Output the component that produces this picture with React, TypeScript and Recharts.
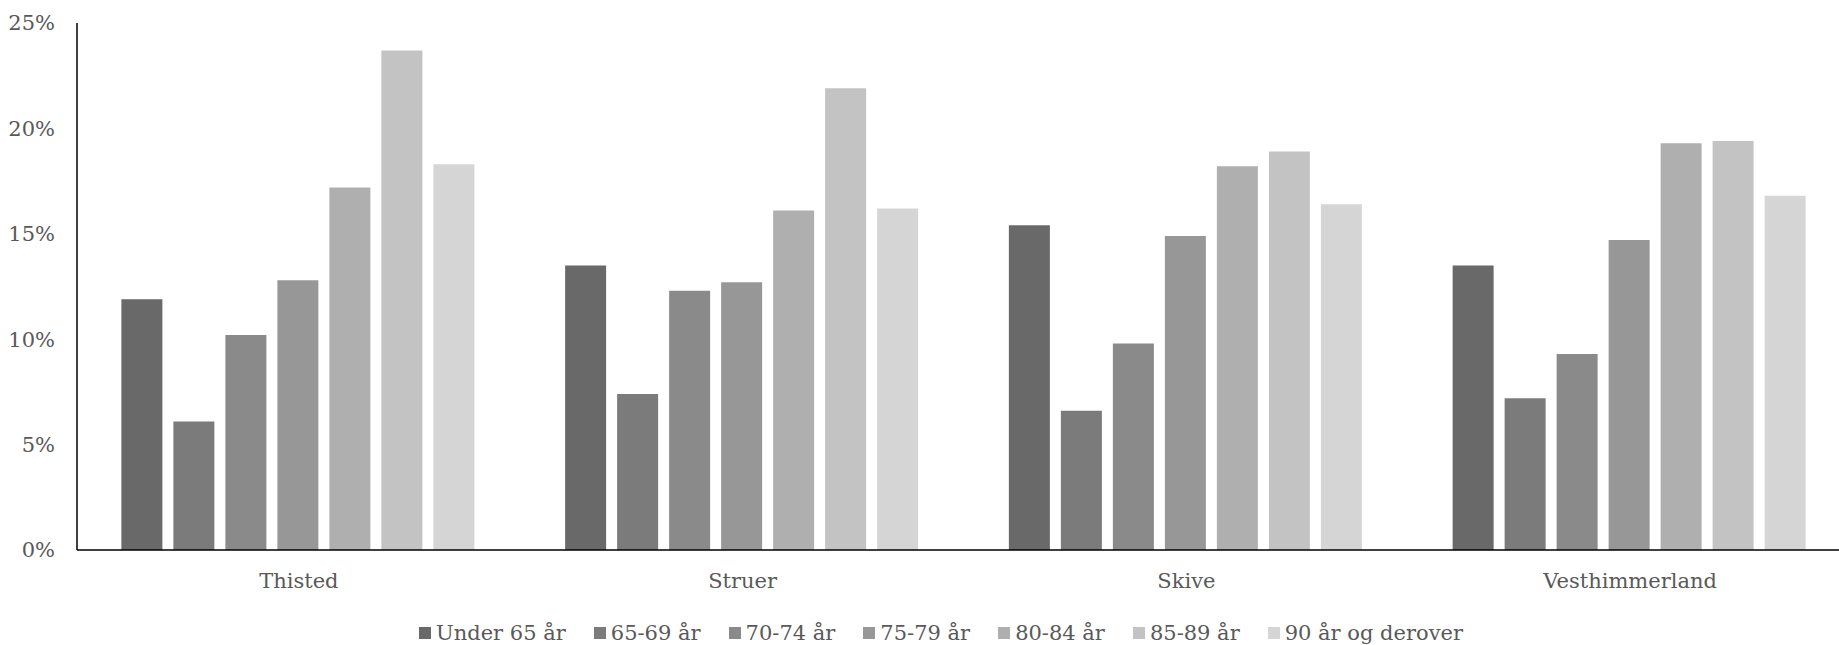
import { BarChart, Bar, XAxis, YAxis, Legend } from 'recharts';

const kommuner = ['Thisted', 'Struer', 'Skive', 'Vesthimmerland'];

const aldersgrupper = [
    'Under 65 år',
    '65-69 år',
    '70-74 år',
    '75-79 år',
    '80-84 år',
    '85-89 år',
    '90 år og derover',
];

// andel pr. aldersgruppe, i procent, rækkefølge som kommuner
const under65 = [11.9, 13.5, 15.4, 13.5];
const aar6569 = [6.1, 7.4, 6.6, 7.2];
const aar7074 = [10.2, 12.3, 9.8, 9.3];
const aar7579 = [12.8, 12.7, 14.9, 14.7];
const aar8084 = [17.2, 16.1, 18.2, 19.3];
const aar8589 = [23.7, 21.9, 18.9, 19.4];
const aar90 = [18.3, 16.2, 16.4, 16.8];

const serier = [under65, aar6569, aar7074, aar7579, aar8084, aar8589, aar90];

const yTicks = [0, 5, 10, 15, 20, 25];

const COLORS = ['#696969', '#7b7b7b', '#8a8a8a', '#979797', '#afafaf', '#c3c3c3', '#d5d5d5'];

const data = kommuner.map((navn, i) => {
    const row: Record<string, string | number> = { navn };
    aldersgrupper.forEach((g, j) => {
        row[g] = serier[j][i];
    });
    return row;
});

const FONT = '"DejaVu Serif", serif';
const TEXT = '#595959';

// egen forklaring, så rækkefølgen følger aldersgrupper (recharts sorterer ellers)
function Forklaring() {
    return (
        <div style={{ display: 'flex', justifyContent: 'center', alignItems: 'center', fontFamily: FONT, fontSize: 21, color: TEXT, paddingLeft: 30 }}>
            {aldersgrupper.map((g, i) => (
                <div key={`leg-${i}`} style={{ display: 'flex', alignItems: 'center', marginRight: i < aldersgrupper.length - 1 ? 28 : 0 }}>
                    <span style={{ width: 12, height: 12, background: COLORS[i], display: 'inline-block', marginRight: 5 }} />
                    <span>{g}</span>
                </div>
            ))}
        </div>
    );
}

export default function App() {
    // plottet går lidt ud over højre kant i originalen, så diagrammet er bredere og beskæres
    return (
        <div style={{ position: 'absolute', left: 0, top: 0, width: 1839, height: 645, overflow: 'hidden', background: '#fff' }}>
            <BarChart
                width={1852}
                height={645}
                data={data}
                margin={{ top: 23, right: 0, left: 0, bottom: 0 }}
                barCategoryGap="10%"
                barGap={11}
            >
                <XAxis
                    dataKey="navn"
                    axisLine={{ stroke: '#000', strokeWidth: 1.5 }}
                    tickLine={false}
                    tickMargin={17}
                    height={67}
                    tick={{ fill: TEXT, fontFamily: FONT, fontSize: 21 }}
                />
                <YAxis
                    domain={[0, 25]}
                    ticks={yTicks}
                    width={77}
                    axisLine={{ stroke: '#000', strokeWidth: 1.5 }}
                    tickLine={false}
                    tickMargin={16}
                    tickFormatter={(v: number) => `${v}%`}
                    tick={{ fill: TEXT, fontFamily: FONT, fontSize: 21 }}
                />
                <Legend verticalAlign="bottom" content={<Forklaring />} wrapperStyle={{ paddingTop: 4 }} />
                {aldersgrupper.map((g, j) => (
                    <Bar key={g} dataKey={g} fill={COLORS[j]} isAnimationActive={false} />
                ))}
            </BarChart>
        </div>
    );
}
